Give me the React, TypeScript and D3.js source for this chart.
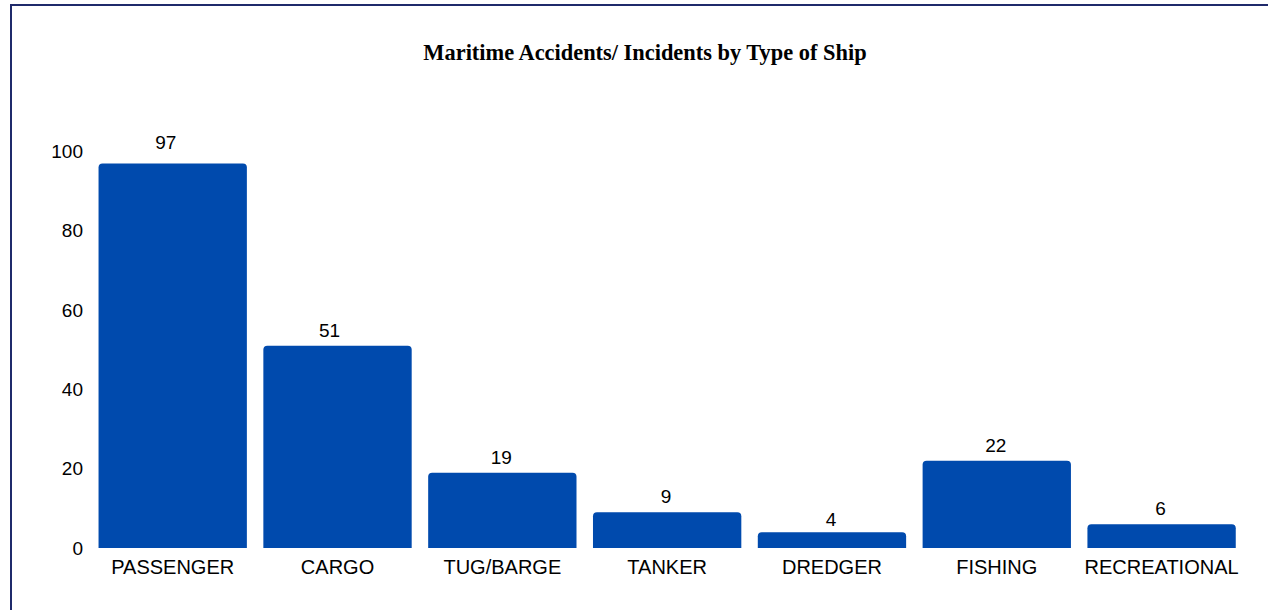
import React from "react";
import * as d3 from "d3";

const categories = ["PASSENGER", "CARGO", "TUG/BARGE", "TANKER", "DREDGER", "FISHING", "RECREATIONAL"];
const counts = [97, 51, 19, 9, 4, 22, 6];
const yTicks = [0, 20, 40, 60, 80, 100];

// small nudges of the value labels, as they sit in the original
const labelNudge: Record<string, [number, number]> = {
  PASSENGER: [-6, -5],
  CARGO: [-7, 0.5],
  DREDGER: [0, 2.5],
};

const App = () => {
  const width = 1268;
  const height = 610;
  const barColor = "#004aad";

  const x = d3.scaleBand().domain(categories).range([90.3, 1244]).paddingInner(0.1).paddingOuter(0.05);
  const y = d3.scaleLinear().domain([0, 100]).range([548, 151.5]);

  // top corners rounded, bottom flat
  const barPath = (x0: number, y0: number, w: number, h: number, r: number) => {
    const rr = Math.min(r, h / 2, w / 2);
    return `M${x0},${y0 + h}V${y0 + rr}Q${x0},${y0} ${x0 + rr},${y0}H${x0 + w - rr}Q${x0 + w},${y0} ${x0 + w},${y0 + rr}V${y0 + h}Z`;
  };

  return (
    <svg width={width} height={height} style={{ position: "absolute", left: 0, top: 0 }}>
      <rect x={0} y={0} width={width} height={height} fill="#fff" />
      <path d={`M11,${height}V5H${width}`} fill="none" stroke="#1f2a6b" strokeWidth={2} />
      <text x={645} y={60} textAnchor="middle" fontFamily="'Liberation Serif', serif" fontWeight="bold" fontSize={22.4} fill="#000">
        Maritime Accidents/ Incidents by Type of Ship
      </text>
      <g fontFamily="'Liberation Sans', Arial, sans-serif" fontSize={19} fill="#000">
        {yTicks.map(t => (
          <text key={t} x={83} y={y(t)} dy="0.35em" textAnchor="end">{t}</text>
        ))}
        {categories.map((c, i) => {
          const bx = x(c)!;
          const bw = x.bandwidth();
          const by = y(counts[i]);
          const [ndx, ndy] = labelNudge[c] ?? [0, 0];
          return (
            <g key={c}>
              <path d={barPath(bx, by, bw, y(0) - by, 4)} fill={barColor} />
              <text x={bx + bw / 2 - 1 + ndx} y={by - 9 + ndy} textAnchor="middle">{counts[i]}</text>
              <text x={bx + bw / 2} y={574} textAnchor="middle" fontSize={20}>{c}</text>
            </g>
          );
        })}
      </g>
    </svg>
  );
};

export default App;
